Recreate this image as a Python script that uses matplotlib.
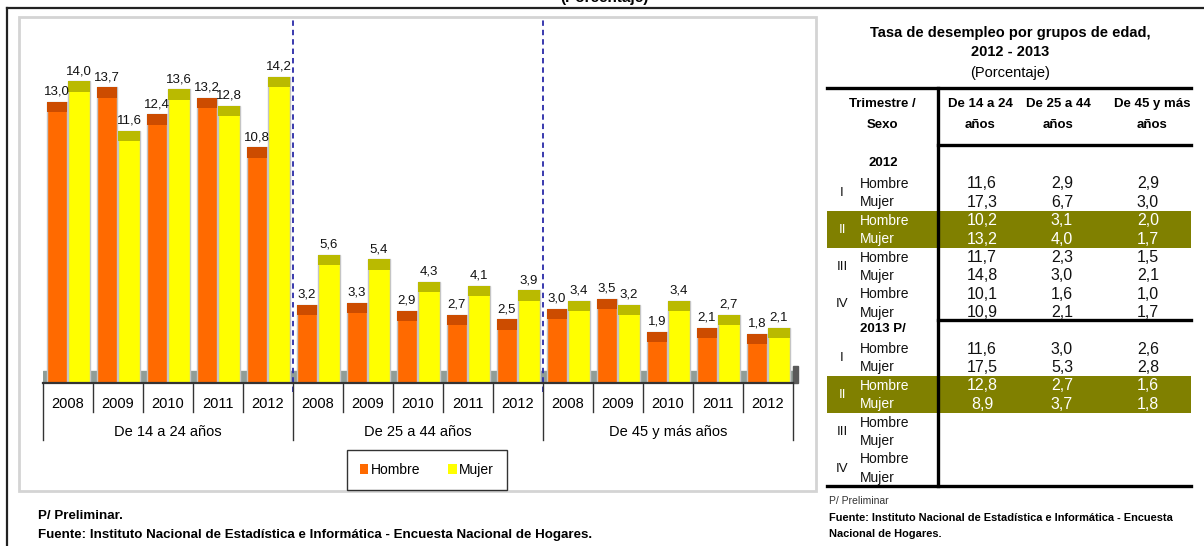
import numpy as np
import matplotlib.pyplot as plt
from matplotlib.patches import Rectangle, Patch
from matplotlib.transforms import blended_transform_factory

plt.rcParams['font.family'] = ['Liberation Sans', 'DejaVu Sans']

# ---- chart data ----
groups = ['De 14 a 24 años', 'De 25 a 44 años', 'De 45 y más años']
years = ['2008', '2009', '2010', '2011', '2012']
hombre = [13.0, 13.7, 12.4, 13.2, 10.8, 3.2, 3.3, 2.9, 2.7, 2.5, 3.0, 3.5, 1.9, 2.1, 1.8]
mujer = [14.0, 11.6, 13.6, 12.8, 14.2, 5.6, 5.4, 4.3, 4.1, 3.9, 3.4, 3.2, 3.4, 2.7, 2.1]

# ---- table data ----
col_heads = [('De 14 a 24', 'años'), ('De 25 a 44', 'años'), ('De 45 y más', 'años')]
quarters = ['I', 'II', 'III', 'IV']
sexes = ['Hombre', 'Mujer']
t2012_a = [11.6, 17.3, 10.2, 13.2, 11.7, 14.8, 10.1, 10.9]
t2012_b = [2.9, 6.7, 3.1, 4.0, 2.3, 3.0, 1.6, 2.1]
t2012_c = [2.9, 3.0, 2.0, 1.7, 1.5, 2.1, 1.0, 1.7]
t2013_a = [11.6, 17.5, 12.8, 8.9]
t2013_b = [3.0, 5.3, 2.7, 3.7]
t2013_c = [2.6, 2.8, 1.6, 1.8]

W, H = 1204, 546
fig = plt.figure(figsize=(W / 100, H / 100), dpi=100)

def fx(px):
    return px / W

def fy(py):
    return 1 - py / H

def fmt(v):
    return f"{v:.1f}".replace('.', ',')

# bar axes
ax = fig.add_axes([fx(43), fy(383), fx(750), 366 / H])
FLOOR = 0.58
CAP = 0.5
ax.set_xlim(0, 15)
ax.set_ylim(-FLOOR, 17.1)
ax.axis('off')

n = len(hombre)
idx = np.arange(n)
h = np.array(hombre)
m = np.array(mujer)
xh = idx + 0.28
xm = idx + 0.72

ax.axhspan(-FLOOR, 0, color='#8f9d98', zorder=0)
ax.add_patch(Rectangle((15, -FLOOR), 0.1, FLOOR + 0.25, color='#5a5a5a', clip_on=False, zorder=1))
ax.bar(xh, h + FLOOR, bottom=-FLOOR, width=0.40, color='#ff6a00', edgecolor='#c4c4c4', lw=1, zorder=2)
ax.bar(xh, CAP, bottom=h - CAP, width=0.40, color='#cc4c00', edgecolor='none', zorder=3)
ax.bar(xm, m + FLOOR, bottom=-FLOOR, width=0.44, color='#ffff00', edgecolor='#c4c4c4', lw=1, zorder=2)
ax.bar(xm, CAP, bottom=m - CAP, width=0.44, color='#baba00', edgecolor='none', zorder=3)

for x, v in zip(xh, h):
    ax.text(x, v + 0.2, fmt(v), ha='center', va='bottom', fontsize=9.5, color='#111111', zorder=4)
for x, v in zip(xm, m):
    ax.text(x, v + 0.2, fmt(v), ha='center', va='bottom', fontsize=9.5, color='#111111', zorder=4)

for g in range(1, len(groups)):
    ax.axvline(5 * g, ymin=-0.025, ymax=1, color='#2a2aa8', lw=1.3, ls=(0, (3, 2.2)),
               clip_on=False, zorder=5)

# overlay in pixel coords
ov = fig.add_axes([0, 0, 1, 1])
ov.set_xlim(0, W)
ov.set_ylim(H, 0)
ov.axis('off')
tr = blended_transform_factory(ax.transData, ov.transData)

# outer lines and chart frame
ov.plot([7, W], [8, 8], color='#222222', lw=1.6)
ov.plot([7, 7], [8, H], color='#222222', lw=1.6)
ov.add_patch(Rectangle((19, 17), 797, 474, fill=False, edgecolor='#d4d4d4', lw=2))
ov.text(604, 2, '(Porcentaje)', ha='center', va='baseline', fontsize=11, fontweight='bold')

# category axis
ov.plot([0, 15], [383, 383], color='#333333', lw=1.6, transform=tr)
for i in range(n + 1):
    low = 440 if i % 5 == 0 else 412
    ov.plot([i, i], [383, low], color='#333333', lw=1, transform=tr)
for i in range(n):
    ov.text(i + 0.5, 404, years[i % 5], ha='center', va='center', fontsize=10.5, transform=tr)
for g, name in enumerate(groups):
    ov.text(5 * g + 2.5, 432, name, ha='center', va='center', fontsize=10.5, transform=tr)

# legend
handles = [Patch(facecolor='#ff6a00', edgecolor='none'), Patch(facecolor='#ffff00', edgecolor='none')]
leg = fig.legend(handles, ['Hombre', 'Mujer'], loc='center', bbox_to_anchor=(fx(427), fy(470)),
                 ncol=2, frameon=True, fancybox=False, edgecolor='black', fontsize=10,
                 handlelength=0.6, handleheight=0.8, handletextpad=0.2, columnspacing=2.0,
                 borderpad=0.95)
leg.get_frame().set_linewidth(1)

# left footnotes
ov.text(38, 516, 'P/ Preliminar.', ha='left', va='center', fontsize=9.6, fontweight='bold')
ov.text(38, 535, 'Fuente: Instituto Nacional de Estadística e Informática - Encuesta Nacional de Hogares.',
        ha='left', va='center', fontsize=9.6, fontweight='bold')

# ---- table ----
ov.text(1010, 33, 'Tasa de desempleo por grupos de edad,', ha='center', va='center', fontsize=10.5, fontweight='bold')
ov.text(1010, 52, '2012 - 2013', ha='center', va='center', fontsize=10.5, fontweight='bold')
ov.text(1010, 73, '(Porcentaje)', ha='center', va='center', fontsize=10.5)

olive = '#808000'
for y0 in (211, 376):
    ov.add_patch(Rectangle((827, y0), 364, 37, color=olive, lw=0, zorder=1))

ov.plot([827, 1191], [88, 88], color='black', lw=2.4, zorder=3)
ov.plot([938, 1191], [145, 145], color='black', lw=2.4, zorder=3)
ov.plot([938, 1191], [320, 320], color='black', lw=2.4, zorder=3)
ov.plot([827, 1191], [486, 486], color='black', lw=2.4, zorder=3)
ov.plot([938, 938], [88, 486], color='black', lw=2.4, zorder=3)

ov.text(882, 104, 'Trimestre /', ha='center', va='center', fontsize=9.5, fontweight='bold')
ov.text(882, 125, 'Sexo', ha='center', va='center', fontsize=9.5, fontweight='bold')
head_x = [980, 1058, 1152]
for x, (l1, l2) in zip(head_x, col_heads):
    ov.text(x, 104, l1, ha='center', va='center', fontsize=9.5, fontweight='bold')
    ov.text(x, 125, l2, ha='center', va='center', fontsize=9.5, fontweight='bold')

val_x = [982, 1062, 1148]
step = 18.4

def block(year_label, y_year, y_first, cols, hl_q):
    ov.text(883, y_year, year_label, ha='center', va='center', fontsize=9.5, fontweight='bold')
    for q, qname in enumerate(quarters):
        c = 'white' if q == hl_q else '#111111'
        yq = y_first + (2 * q + 0.5) * step
        ov.text(842, yq, qname, ha='center', va='center', fontsize=9.5, color=c, zorder=4)
        for s, sname in enumerate(sexes):
            k = 2 * q + s
            yr = y_first + k * step
            ov.text(860, yr, sname, ha='left', va='center', fontsize=10, color=c, zorder=4)
            for x, col in zip(val_x, cols):
                if k < len(col):
                    ov.text(x, yr, fmt(col[k]), ha='center', va='center', fontsize=11.5, color=c, zorder=4)

block('2012', 163, 184, [t2012_a, t2012_b, t2012_c], 1)
block('2013 P/', 329, 349, [t2013_a, t2013_b, t2013_c], 1)

ov.text(829, 501, 'P/ Preliminar', ha='left', va='center', fontsize=7.5, color='#333333')
ov.text(829, 518, 'Fuente: Instituto Nacional de Estadística e Informática - Encuesta',
        ha='left', va='center', fontsize=7.9, fontweight='bold')
ov.text(829, 534, 'Nacional de Hogares.', ha='left', va='center', fontsize=7.9, fontweight='bold')

fig.savefig('out.png', dpi=100)
